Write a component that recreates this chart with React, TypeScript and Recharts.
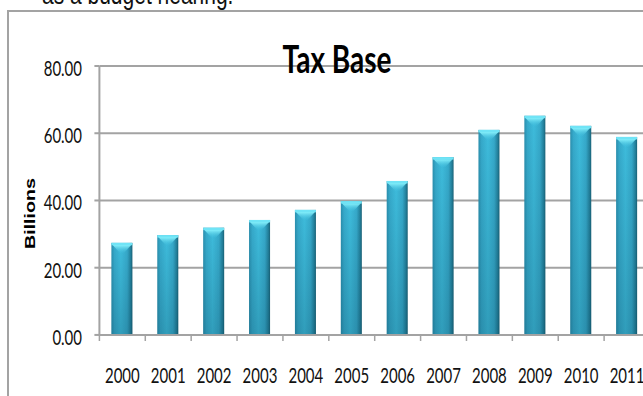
import React from 'react';
import { BarChart, Bar, XAxis, YAxis, CartesianGrid } from 'recharts';

const years = ['2000', '2001', '2002', '2003', '2004', '2005', '2006', '2007', '2008', '2009', '2010', '2011'];
const taxBase = [27.4, 29.7, 31.9, 34.2, 37.2, 39.8, 45.8, 52.9, 61.0, 65.2, 62.2, 58.9];
const yTicks = [0, 20, 40, 60, 80];

// the reference picture is stretched vertically, so the chart is drawn flat and scaled
const S = 1.35;
const CHART_W = 660;
const CHART_H = 294;
const PLOT_LEFT = 99.4;
const PLOT_RIGHT = 650;
const PLOT_TOP = 48.9;
const PLOT_BOTTOM = 248.1;
const BAND = (PLOT_RIGHT - PLOT_LEFT) / years.length;
const GRAY = '#a3a3a3';

const data = years.map((year, i) => ({ year, value: taxBase[i] }));

const XTick = ({ x, payload }: any) => (
  <g>
    <line x1={x - BAND / 2} x2={x - BAND / 2} y1={PLOT_BOTTOM} y2={PLOT_BOTTOM + 4.5} stroke={GRAY} strokeWidth={1.5} />
    <text x={x} y={PLOT_BOTTOM + 35.6} textAnchor="middle" fontFamily="Lato" fontSize={15} fill="#111">
      {payload.value}
    </text>
  </g>
);

const YTick = ({ y, payload }: any) => (
  <text x={PLOT_LEFT - 17.4} y={y + 7.3} textAnchor="end" fontFamily="Lato" fontSize={15} fill="#111">
    {Number(payload.value).toFixed(2)}
  </text>
);

const GlassBar = (props: any) => {
  const { x, y, width, height, index } = props;
  if (!height || height <= 0) return null;
  const h = `bh-${index}`;
  const v = `bv-${index}`;
  const c = `bc-${index}`;
  return (
    <g>
      <defs>
        <linearGradient id={h} x1="0" y1="0" x2="1" y2="0">
          <stop offset="0%" stopColor="#2a8fae" />
          <stop offset="15%" stopColor="#36aacb" />
          <stop offset="45%" stopColor="#3ebcdc" />
          <stop offset="75%" stopColor="#36a9ca" />
          <stop offset="92%" stopColor="#23809b" />
          <stop offset="100%" stopColor="#1a6277" />
        </linearGradient>
        <linearGradient id={v} x1="0" y1="0" x2="0" y2="1">
          <stop offset="0%" stopColor="#003044" stopOpacity={0} />
          <stop offset="100%" stopColor="#003044" stopOpacity={0.22} />
        </linearGradient>
        <linearGradient id={c} x1="0" y1="0" x2="0" y2="1">
          <stop offset="0%" stopColor="#8af3fd" />
          <stop offset="100%" stopColor="#3ebcdc" stopOpacity={0.2} />
        </linearGradient>
      </defs>
      <rect x={x} y={y} width={width} height={height} fill={`url(#${h})`} />
      <rect x={x} y={y} width={width} height={height} fill={`url(#${v})`} />
      <polygon
        points={`${x + 1},${y + 1.5} ${x + width - 1},${y + 1.5} ${x + width / 2 + 2},${y + 7.5} ${x + width / 2 - 2},${y + 7.5}`}
        fill={`url(#${c})`}
      />
      <rect x={x} y={y} width={width} height={1.8} fill="#70e4f6" />
    </g>
  );
};

export default function App() {
  return (
    <div style={{ position: 'absolute', left: 0, top: 0, width: 643, height: 396, overflow: 'hidden', background: '#fff' }}>
      <div
        style={{
          position: 'absolute',
          left: 7,
          top: 10,
          width: 700,
          height: 500,
          borderLeft: `2px solid ${GRAY}`,
          borderTop: `2px solid ${GRAY}`,
        }}
      />
      <div style={{ position: 'absolute', left: 0, top: 0, width: CHART_W, height: CHART_H, transform: `scaleY(${S})`, transformOrigin: '0 0' }}>
        <BarChart
          width={CHART_W}
          height={CHART_H}
          data={data}
          margin={{ top: PLOT_TOP, right: CHART_W - PLOT_RIGHT, bottom: 0, left: 0 }}
        >
          <CartesianGrid vertical={false} stroke={GRAY} strokeWidth={1.5} />
          <XAxis
            dataKey="year"
            height={CHART_H - PLOT_BOTTOM}
            interval={0}
            tickLine={false}
            tickSize={0}
            tickMargin={0}
            axisLine={{ stroke: GRAY, strokeWidth: 1.5 }}
            tick={<XTick />}
          />
          <YAxis
            width={PLOT_LEFT}
            domain={[0, 80]}
            ticks={yTicks}
            tickSize={5}
            tickMargin={12}
            axisLine={{ stroke: GRAY, strokeWidth: 2 }}
            tickLine={{ stroke: GRAY, strokeWidth: 1.5 }}
            tick={<YTick />}
          />
          <Bar dataKey="value" barSize={21} shape={<GlassBar />} isAnimationActive={false} />
        </BarChart>
        <svg width={CHART_W} height={CHART_H} style={{ position: 'absolute', left: 0, top: 0, pointerEvents: 'none' }}>
          <text x={42} y={3} fontFamily="Liberation Sans" fontSize={21} fill="#111">
            as a budget hearing.
          </text>
          <text x={337} y={54.1} textAnchor="middle" fontFamily="Lato" fontWeight="bold" fontSize={28} fill="#000">
            Tax Base
          </text>
          <text
            x={0}
            y={0}
            transform={`translate(35.3, ${213.5 / S}) rotate(-90)`}
            textAnchor="middle"
            fontFamily="Liberation Sans"
            fontWeight="bold"
            fontSize={14.6}
            fill="#000"
          >
            Billions
          </text>
        </svg>
      </div>
    </div>
  );
}
